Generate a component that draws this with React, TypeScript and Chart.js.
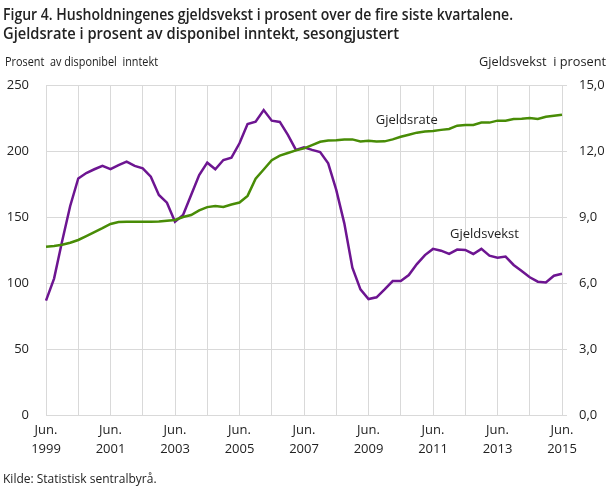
import React, { useEffect, useRef } from "react";
import { Chart, registerables } from "chart.js";

Chart.register(...registerables);

// Quarterly categories, Jun. 1999 .. Jun. 2015
const quarterNames = ["Jun.", "Sep.", "Des.", "Mar."];
const startYear = 1999;
const quarterCount = 65;
const categories: string[] = [];
for (let i = 0; i < quarterCount; i++) {
  const q = i % 4;
  const year = startYear + Math.floor(i / 4) + (q === 3 ? 1 : 0);
  categories.push(`${quarterNames[q]} ${year}`);
}

// Gjeldsrate, prosent av disponibel inntekt (left axis)
const gjeldsrate = [
  127.5, 128, 129, 130.5, 132.6, 135.5, 138.5, 141.5, 144.7, 146.2, 146.4, 146.4,
  146.4, 146.4, 146.6, 147.2, 147.7, 150, 151.5, 155, 157.5, 158.3, 157.6, 159.5,
  161, 166, 179, 186, 193, 196.5, 198.5, 200.5, 202, 204.5, 207, 208,
  208.2, 208.8, 208.8, 207.2, 207.8, 207.2, 207.3, 208.8, 210.8, 212.3, 213.9, 214.7,
  215.2, 216, 216.7, 219.2, 219.7, 219.7, 221.5, 221.5, 223, 223, 224.2, 224.5,
  225, 224.2, 226, 226.7, 227.5,
];

// Gjeldsvekst i prosent (right axis)
const gjeldsvekst = [
  5.2, 6.2, 7.9, 9.5, 10.75, 11.0, 11.17, 11.33, 11.18, 11.36, 11.52, 11.32,
  11.21, 10.83, 10.0, 9.65, 8.79, 9.09, 10.0, 10.91, 11.47, 11.17, 11.59, 11.7,
  12.35, 13.23, 13.33, 13.86, 13.38, 13.32, 12.73, 12.05, 12.17, 12.05, 11.95, 11.44,
  10.23, 8.71, 6.7, 5.71, 5.27, 5.35, 5.71, 6.09, 6.09, 6.36, 6.86, 7.27,
  7.55, 7.47, 7.32, 7.52, 7.5, 7.32, 7.55, 7.24, 7.15, 7.2, 6.82, 6.55,
  6.26, 6.06, 6.02, 6.33, 6.42,
];

const titleLines = [
  "Figur 4. Husholdningenes gjeldsvekst i prosent over de fire siste kvartalene.",
  "Gjeldsrate i prosent av disponibel inntekt, sesongjustert",
];
const leftAxisTitle = "Prosent  av disponibel  inntekt";
const rightAxisTitle = "Gjeldsvekst  i prosent";
const sourceText = "Kilde: Statistisk sentralbyrå.";
const seriesNames = ["Gjeldsrate", "Gjeldsvekst"];

const GREEN = "#488c06";
const PURPLE = "#6d1591";
const GRID = "#d9d9d9";
const TEXT = "#222222";
const FONT = "'Open Sans', 'DejaVu Sans', sans-serif";

const textPlugin = {
  id: "texts",
  afterDraw(chart: any) {
    const ctx = chart.ctx;
    ctx.save();
    ctx.fillStyle = TEXT;
    ctx.textBaseline = "alphabetic";
    ctx.textAlign = "left";
    ctx.font = `600 16px ${FONT}`;
    ctx.fillText(titleLines[0], 3, 20, 510);
    ctx.fillText(titleLines[1], 3, 39, 396);

    ctx.font = `13px ${FONT}`;
    ctx.textBaseline = "middle";
    ctx.fillText(leftAxisTitle, 5, 62, 153);
    ctx.textAlign = "right";
    ctx.fillText(rightAxisTitle, 606, 62, 127);

    ctx.textAlign = "left";
    ctx.font = `12px ${FONT}`;
    ctx.fillText(sourceText, 3, 480);

    // series labels
    const xs = chart.scales.x;
    const yl = chart.scales.y;
    const yr = chart.scales.y1;
    ctx.font = `13px ${FONT}`;
    ctx.fillText(seriesNames[0], xs.getPixelForValue(40.9), yl.getPixelForValue(223.5));
    ctx.fillText(seriesNames[1], xs.getPixelForValue(50.1), yr.getPixelForValue(8.2));
    ctx.restore();
  },
};

export default function App() {
  const ref = useRef<HTMLCanvasElement | null>(null);
  useEffect(() => {
    if (!ref.current) return;
    const chart = new Chart(ref.current, {
      type: "line",
      data: {
        labels: categories,
        datasets: [
          {
            label: seriesNames[0],
            data: gjeldsrate,
            borderColor: GREEN,
            backgroundColor: GREEN,
            borderWidth: 2.5,
            pointRadius: 0,
            tension: 0,
            yAxisID: "y",
          },
          {
            label: seriesNames[1],
            data: gjeldsvekst,
            borderColor: PURPLE,
            backgroundColor: PURPLE,
            borderWidth: 2.5,
            pointRadius: 0,
            tension: 0,
            yAxisID: "y1",
          },
        ],
      },
      options: {
        responsive: false,
        animation: false,
        layout: { padding: { top: 85, left: 0, right: 0, bottom: 0 } },
        plugins: {
          legend: { display: false },
          title: { display: false },
          tooltip: { enabled: false },
        },
        scales: {
          x: {
            type: "category",
            offset: false,
            border: { display: false },
            grid: {
              color: (c: any) => (c.index % 4 === 0 ? GRID : "rgba(0,0,0,0)"),
              drawTicks: false,
              lineWidth: 1,
            },
            ticks: {
              autoSkip: false,
              maxRotation: 0,
              minRotation: 0,
              padding: 6,
              color: TEXT,
              font: { family: FONT, size: 13, lineHeight: 1.45 },
              callback: (_v: any, i: number) =>
                i % 8 === 0 ? ["Jun.", String(startYear + i / 4)] : "",
            },
            afterFit: (s: any) => {
              s.height = 72;
            },
          },
          y: {
            type: "linear",
            position: "left",
            min: 0,
            max: 250,
            border: { display: false },
            grid: { color: GRID, drawTicks: false, lineWidth: 1 },
            ticks: {
              stepSize: 50,
              padding: 17,
              color: TEXT,
              font: { family: FONT, size: 13 },
            },
            afterFit: (s: any) => {
              s.width = 46;
            },
          },
          y1: {
            type: "linear",
            position: "right",
            min: 0,
            max: 15,
            border: { display: false },
            grid: {
              color: GRID,
              drawOnChartArea: false,
              drawTicks: true,
              tickLength: 5,
            },
            ticks: {
              stepSize: 3,
              padding: 12,
              color: TEXT,
              font: { family: FONT, size: 13 },
              callback: (v: any) => Number(v).toFixed(1).replace(".", ","),
            },
            afterFit: (s: any) => {
              s.width = 47;
            },
          },
        },
      },
      plugins: [textPlugin],
    });
    return () => chart.destroy();
  }, []);

  return (
    <div style={{ position: "absolute", left: 0, top: 0, width: 609, height: 487, background: "#fff" }}>
      <canvas ref={ref} width={609} height={487} style={{ width: 609, height: 487, display: "block" }} />
    </div>
  );
}
